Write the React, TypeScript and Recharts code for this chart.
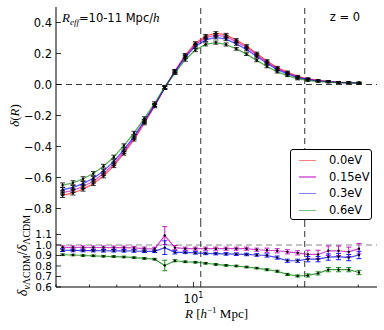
import React from 'react';
import { LineChart, Line, XAxis, YAxis, ErrorBar, ReferenceLine } from 'recharts';

// bin centres, h^-1 Mpc
const R = [4.18, 4.48, 4.79, 5.13, 5.49, 5.88, 6.29, 6.73, 7.21, 7.72, 8.26, 8.84, 9.47, 10.13, 10.85,
  11.61, 12.43, 13.31, 14.25, 15.25, 16.33, 17.48, 18.71, 20.03, 21.44, 22.95, 24.57, 26.31, 28.16, 30.15];

// void profiles delta(R)
const DELTA_0 = [-0.715, -0.7, -0.675, -0.64, -0.59, -0.525, -0.445, -0.355, -0.25, -0.14, -0.02, 0.087, 0.19, 0.266, 0.313,
  0.331, 0.32, 0.287, 0.248, 0.2, 0.152, 0.109, 0.08, 0.052, 0.037, 0.026, 0.02, 0.015, 0.013, 0.011];
const DELTA_015 = [-0.697, -0.683, -0.658, -0.624, -0.575, -0.512, -0.434, -0.344, -0.241, -0.135, -0.022, 0.085, 0.183, 0.257, 0.302,
  0.319, 0.309, 0.277, 0.239, 0.191, 0.144, 0.103, 0.075, 0.048, 0.034, 0.024, 0.019, 0.014, 0.012, 0.011];
const DELTA_03 = [-0.679, -0.664, -0.639, -0.605, -0.558, -0.496, -0.42, -0.335, -0.235, -0.132, -0.02, 0.081, 0.177, 0.246, 0.288,
  0.304, 0.293, 0.262, 0.226, 0.181, 0.137, 0.096, 0.068, 0.044, 0.032, 0.023, 0.018, 0.013, 0.011, 0.01];
const DELTA_06 = [-0.649, -0.634, -0.608, -0.574, -0.527, -0.467, -0.394, -0.312, -0.218, -0.121, -0.016, 0.074, 0.16, 0.222, 0.259,
  0.27, 0.258, 0.23, 0.196, 0.156, 0.116, 0.082, 0.058, 0.037, 0.026, 0.019, 0.015, 0.011, 0.01, 0.008];
const ERR_DELTA = [0.014, 0.013, 0.013, 0.012, 0.012, 0.011, 0.011, 0.01, 0.01, 0.01, 0.01, 0.01, 0.01, 0.01, 0.01,
  0.01, 0.01, 0.009, 0.009, 0.009, 0.008, 0.008, 0.007, 0.007, 0.006, 0.005, 0.005, 0.004, 0.004, 0.004];

// ratio to LCDM
const RATIO_015 = [0.978, 0.977, 0.977, 0.976, 0.976, 0.975, 0.975, 0.972, 0.966, 0.964, 1.09, 0.975, 0.965, 0.965, 0.965,
  0.965, 0.965, 0.965, 0.965, 0.955, 0.95, 0.945, 0.935, 0.925, 0.91, 0.91, 0.945, 0.945, 0.935, 0.965];
const RATIO_03 = [0.95, 0.948, 0.947, 0.946, 0.945, 0.945, 0.944, 0.943, 0.94, 0.94, 0.975, 0.93, 0.93, 0.925, 0.92,
  0.918, 0.915, 0.913, 0.91, 0.905, 0.9, 0.88, 0.85, 0.85, 0.865, 0.865, 0.885, 0.89, 0.88, 0.905];
const RATIO_06 = [0.907, 0.905, 0.9, 0.897, 0.893, 0.89, 0.886, 0.88, 0.872, 0.865, 0.805, 0.85, 0.84, 0.836, 0.826,
  0.815, 0.806, 0.8, 0.79, 0.78, 0.765, 0.75, 0.72, 0.705, 0.71, 0.73, 0.765, 0.765, 0.765, 0.738];
const ERR_015 = [0.015, 0.015, 0.015, 0.015, 0.015, 0.015, 0.015, 0.015, 0.015, 0.015, 0.085, 0.02, 0.015, 0.015, 0.015,
  0.015, 0.015, 0.015, 0.015, 0.015, 0.02, 0.02, 0.02, 0.02, 0.04, 0.04, 0.045, 0.045, 0.045, 0.05];
const ERR_03 = [0.012, 0.012, 0.012, 0.012, 0.012, 0.012, 0.012, 0.012, 0.012, 0.012, 0.065, 0.015, 0.012, 0.012, 0.012,
  0.012, 0.012, 0.012, 0.012, 0.012, 0.015, 0.015, 0.015, 0.015, 0.025, 0.025, 0.03, 0.03, 0.03, 0.035];
const ERR_06 = [0.008, 0.008, 0.008, 0.008, 0.008, 0.008, 0.008, 0.008, 0.008, 0.008, 0.05, 0.01, 0.008, 0.008, 0.008,
  0.008, 0.008, 0.008, 0.008, 0.008, 0.01, 0.01, 0.01, 0.01, 0.015, 0.015, 0.02, 0.02, 0.02, 0.02];

const X_TICKS = [4, 5, 6, 7, 8, 9, 10, 20, 30];
const DELTA_TICKS = [-0.8, -0.6, -0.4, -0.2, 0, 0.2, 0.4];
const RATIO_TICKS = [0.6, 0.7, 0.8, 0.9, 1.0, 1.1];
const R_MARKS = [10.5, 21];

const SERIES = [
  { name: '0.0eV', top: 'd0', bot: null, err: null, color: '#ff0000' },
  { name: '0.15eV', top: 'd015', bot: 'q015', err: 'e015', color: '#bf00bf' },
  { name: '0.3eV', top: 'd03', bot: 'q03', err: 'e03', color: '#0000ff' },
  { name: '0.6eV', top: 'd06', bot: 'q06', err: 'e06', color: '#008000' },
];

const topRows = R.map((r, i) => ({
  r, d0: DELTA_0[i], d015: DELTA_015[i], d03: DELTA_03[i], d06: DELTA_06[i], e: ERR_DELTA[i],
}));
const botRows = R.map((r, i) => ({
  r, q015: RATIO_015[i], q03: RATIO_03[i], q06: RATIO_06[i], e015: ERR_015[i], e03: ERR_03[i], e06: ERR_06[i],
}));

const FONT = 'DejaVu Sans';
const W = 384;
const fmt = (v: number) => v.toFixed(1).replace('-', '\u2212');

const XTick = (props: any) => {
  const { x, y, payload, side, withLabel } = props;
  const major = payload.value === 10;
  const len = major ? 5 : 2.5;
  const dir = side === 'top' ? 1 : -1;
  return (
    <g>
      <line x1={x} x2={x} y1={y} y2={y + dir * len} stroke="#000" strokeWidth={0.8} />
      {withLabel && major && (
        <text x={x} y={y + 16} textAnchor="middle" fontSize={11.5} fontFamily={FONT} fill="#000">
          10<tspan dy={-5} fontSize={8}>1</tspan>
        </text>
      )}
    </g>
  );
};

const YTick = (props: any) => {
  const { x, y, payload, side, size } = props;
  if (side === 'right') {
    return <line x1={x - 5} x2={x} y1={y} y2={y} stroke="#000" strokeWidth={0.8} />;
  }
  return (
    <g>
      <line x1={x} x2={x + 5} y1={y} y2={y} stroke="#000" strokeWidth={0.8} />
      <text x={x - 4} y={y} dy="0.35em" textAnchor="end" fontSize={size} fontFamily={FONT} fill="#000">
        {fmt(payload.value)}
      </text>
    </g>
  );
};

const axisLine = { stroke: '#000', strokeWidth: 1 };

export default function App() {
  const xCommon = {
    dataKey: 'r', type: 'number' as const, scale: 'log' as const, domain: [4, 34], allowDataOverflow: true,
    ticks: X_TICKS, interval: 0, tickSize: 0, tickMargin: 0, tickLine: false, axisLine,
  };
  const yCommon = { type: 'number' as const, allowDataOverflow: true, interval: 0, tickSize: 0, tickMargin: 0, tickLine: false, axisLine };

  return (
    <div style={{ position: 'absolute', left: 0, top: 0, width: W, height: 330, background: '#fff', fontFamily: FONT }}>
      <div style={{ position: 'absolute', left: 0, top: 0 }}>
        <LineChart width={W} height={225} data={topRows} margin={{ top: 7, right: 7, bottom: 1, left: 0 }}>
          <XAxis xAxisId="b" {...xCommon} height={0} tick={(p: any) => <XTick {...p} side="bottom" />} />
          <XAxis xAxisId="t" {...xCommon} orientation="top" height={0} tick={(p: any) => <XTick {...p} side="top" />} />
          <YAxis yAxisId="l" {...yCommon} width={56} domain={[-0.9, 0.5]} ticks={DELTA_TICKS}
            tick={(p: any) => <YTick {...p} side="left" size={11.5} />} />
          <YAxis yAxisId="r" {...yCommon} orientation="right" width={0} domain={[-0.9, 0.5]} ticks={DELTA_TICKS}
            tick={(p: any) => <YTick {...p} side="right" />} />
          <ReferenceLine xAxisId="b" yAxisId="l" y={0} stroke="#333" strokeDasharray="6 4" />
          {R_MARKS.map((m) => (
            <ReferenceLine key={m} xAxisId="b" yAxisId="l" x={m} stroke="#333" strokeDasharray="6 4" />
          ))}
          {SERIES.map((s) => (
            <Line key={s.name} xAxisId="b" yAxisId="l" dataKey={s.top} type="linear" stroke={s.color}
              strokeOpacity={0.65} strokeWidth={1.3} isAnimationActive={false}
              dot={{ r: 1.2, fill: '#000', stroke: 'none' }} activeDot={false}>
              <ErrorBar dataKey="e" width={2.5} stroke="#000" strokeWidth={0.8} direction="y" />
            </Line>
          ))}
        </LineChart>
      </div>

      <div style={{ position: 'absolute', left: 0, top: 217 }}>
        <LineChart width={W} height={113} data={botRows} margin={{ top: 7, right: 7, bottom: 0, left: 0 }}>
          <XAxis xAxisId="b" {...xCommon} height={43} tick={(p: any) => <XTick {...p} side="bottom" withLabel />} />
          <XAxis xAxisId="t" {...xCommon} orientation="top" height={0} tick={(p: any) => <XTick {...p} side="top" />} />
          <YAxis yAxisId="l" {...yCommon} width={56} domain={[0.6, 1.2]} ticks={RATIO_TICKS}
            tick={(p: any) => <YTick {...p} side="left" size={10.5} />} />
          <YAxis yAxisId="r" {...yCommon} orientation="right" width={0} domain={[0.6, 1.2]} ticks={RATIO_TICKS}
            tick={(p: any) => <YTick {...p} side="right" />} />
          <ReferenceLine xAxisId="b" yAxisId="l" y={1} stroke="#888" strokeDasharray="6 4" />
          {R_MARKS.map((m) => (
            <ReferenceLine key={m} xAxisId="b" yAxisId="l" x={m} stroke="#333" strokeDasharray="6 4" />
          ))}
          {SERIES.filter((s) => s.bot).map((s) => (
            <Line key={s.name} xAxisId="b" yAxisId="l" dataKey={s.bot as string} type="linear" stroke={s.color}
              strokeOpacity={0.75} strokeWidth={1.2} isAnimationActive={false}
              dot={{ r: 1.2, fill: '#000', stroke: 'none' }} activeDot={false}>
              <ErrorBar dataKey={s.err as string} width={2.5} stroke={s.color} strokeWidth={0.9} direction="y" />
            </Line>
          ))}
        </LineChart>
      </div>

      <svg width={W} height={330} style={{ position: 'absolute', left: 0, top: 0, pointerEvents: 'none' }}>
        <text x={62} y={22} fontSize={11.5} fontFamily={FONT} fill="#000">
          <tspan fontFamily="Liberation Serif" fontStyle="italic" fontSize={13}>R</tspan>
          <tspan fontFamily="Liberation Serif" fontStyle="italic" fontSize={9} dy={2.5}>eff</tspan>
          <tspan dy={-2.5}>=10-11 Mpc/</tspan>
          <tspan fontFamily="Liberation Serif" fontStyle="italic" fontSize={13}>h</tspan>
        </text>
        <text x={360} y={21} textAnchor="end" fontSize={11.5} fontFamily={FONT} fill="#000">z = 0</text>

        <text x={19} y={115.5} textAnchor="middle" transform="rotate(-90 19 115.5)" fontSize={13}
          fontFamily="Liberation Serif" fill="#000">
          <tspan fontStyle="italic">δ</tspan>(<tspan fontStyle="italic">R</tspan>)
        </text>

        <text x={27} y={255.5} textAnchor="middle" transform="rotate(-90 27 255.5)" fontSize={14}
          fontFamily="Liberation Serif" fill="#000">
          <tspan fontStyle="italic">δ</tspan>
          <tspan fontSize={10} dy={3}><tspan fontStyle="italic">ν</tspan>ΛCDM</tspan>
          <tspan dy={-3}>/</tspan>
          <tspan fontStyle="italic">δ</tspan>
          <tspan fontSize={10} dy={3}>ΛCDM</tspan>
        </text>

        <text x={216.5} y={318} textAnchor="middle" fontSize={13} fontFamily="Liberation Serif" fill="#000">
          <tspan fontStyle="italic">R</tspan> [<tspan fontStyle="italic">h</tspan>
          <tspan fontSize={9} dy={-5}>−1</tspan>
          <tspan dy={5}> Mpc]</tspan>
        </text>
      </svg>

      <div style={{
        position: 'absolute', left: 290, top: 149, width: 80, height: 67, border: '1px solid #000',
        borderRadius: 3, background: '#fff', paddingTop: 2, boxSizing: 'content-box',
      }}>
        {SERIES.map((s) => (
          <div key={s.name} style={{ height: 16.7, display: 'flex', alignItems: 'center' }}>
            <div style={{ marginLeft: 8, width: 17, height: 1.5, background: s.color, opacity: 0.5 }} />
            <span style={{ marginLeft: 13, fontSize: 11.5, fontFamily: FONT, color: '#000', lineHeight: '16.7px' }}>
              {s.name}
            </span>
          </div>
        ))}
      </div>
    </div>
  );
}
